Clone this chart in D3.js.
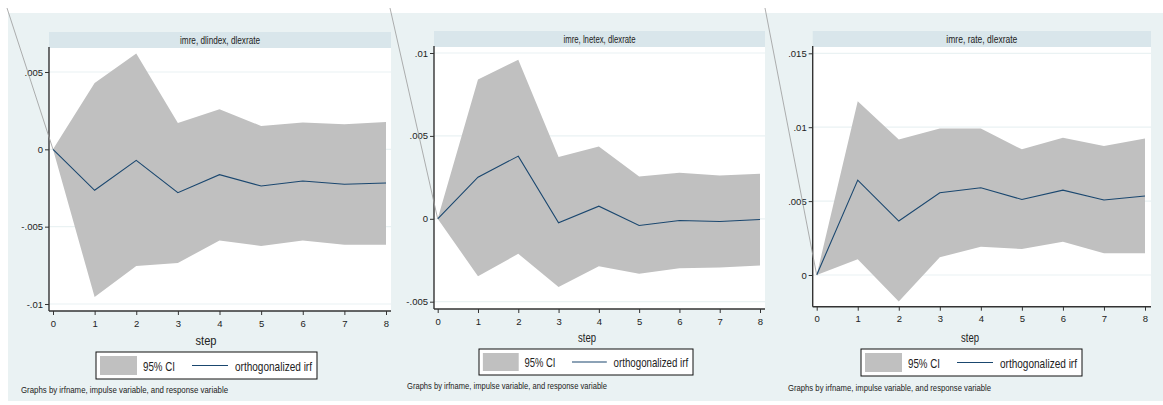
<!DOCTYPE html>
<html>
<head>
<meta charset="utf-8">
<script src="https://cdn.jsdelivr.net/npm/d3@7"></script>
<style>
  body { margin: 0; background: #fff; }
  svg { display: block; font-family: "Liberation Sans Narrow", "Liberation Sans", Arial, sans-serif; }
</style>
</head>
<body>
<div id="chart"></div>
<script>
// irf steps
const steps = [0, 1, 2, 3, 4, 5, 6, 7, 8];

// panel titles (irfname, impulse, response)
const titles = ["imre, dlindex, dlexrate", "imre, lnetex, dlexrate", "imre, rate, dlexrate"];

// orthogonalized irf + 95% CI
const irf1 = [0, -0.00265, -0.00071, -0.0028, -0.00164, -0.00237, -0.00205, -0.00226, -0.00218];
const hi1  = [0, 0.00429, 0.00619, 0.0017, 0.00259, 0.00151, 0.00173, 0.00162, 0.00177];
const lo1  = [0, -0.00955, -0.00755, -0.00735, -0.00589, -0.00625, -0.00589, -0.00617, -0.00617];

const irf2 = [0, 0.00251, 0.00378, -0.00024, 0.00076, -0.0004, -0.0001, -0.00016, -0.00004];
const hi2  = [0, 0.0084, 0.0096, 0.00372, 0.00436, 0.00255, 0.00277, 0.00261, 0.00271];
const lo2  = [0, -0.00346, -0.00211, -0.00412, -0.00286, -0.00332, -0.00298, -0.00294, -0.00282];

const irf3 = [0, 0.00642, 0.00365, 0.00556, 0.0059, 0.00511, 0.00574, 0.00507, 0.00534];
const hi3  = [0, 0.01176, 0.00917, 0.00991, 0.00991, 0.0085, 0.00928, 0.00872, 0.00924];
const lo3  = [0, 0.00106, -0.0018, 0.0012, 0.00191, 0.00176, 0.00225, 0.00147, 0.00147];

// y tick values
const yTicks1 = [-0.01, -0.005, 0, 0.005];
const yTicks2 = [-0.005, 0, 0.005, 0.01];
const yTicks3 = [0, 0.005, 0.01, 0.015];

const legendLabels = ["95% CI", "orthogonalized irf"];
const xTitle = "step";
const note = "Graphs by irfname, impulse variable, and response variable";

// stata-ish colours
const bgCol = "#eaf2f3", stripCol = "#d9e6eb", ciCol = "#c0c0c0", lineCol = "#1a476f";

const W = 1163, H = 405;
const svg = d3.select("#chart").append("svg").attr("width", W).attr("height", H);

// layout for each panel (pixels); tw = squeezed text widths (title, step, note)
const panels = [
  { irf: irf1, hi: hi1, lo: lo1, ticks: yTicks1, title: titles[0],
    bg: [8, 391], plotX: [49, 391], plotY: [48, 311], strip: [32, 48],
    xr: [53, 386], yr: [304, 72], cx: 206, stepY: 345,
    leg: [96, 352, 221, 27], noteX: 21, noteY: 393, tw: [80, 21, 207] },
  { irf: irf2, hi: hi2, lo: lo2, ticks: yTicks2, title: titles[1],
    bg: [391, 766], plotX: [434, 765], plotY: [47, 309], strip: [31, 47],
    xr: [437.7, 760], yr: [301.7, 53], cx: 587, stepY: 342,
    leg: [479, 349, 214, 26], noteX: 407, noteY: 389, tw: [72, 18, 200] },
  { irf: irf3, hi: hi3, lo: lo3, ticks: yTicks3, title: titles[2],
    bg: [766, 1163], plotX: [812.7, 1151], plotY: [47, 306.7], strip: [31, 47],
    xr: [816.7, 1145], yr: [275, 53.3], cx: 970, stepY: 342,
    leg: [861, 349, 221, 27], noteX: 788, noteY: 391, tw: [71, 18, 203] }
];

const fmt = v => v === 0 ? "0" : String(+v.toFixed(4)).replace("0.", ".");

// the original uses a very condensed face, so squeeze text to the measured width
const squeeze = (sel, w) => sel.attr("textLength", w).attr("lengthAdjust", "spacingAndGlyphs");

panels.forEach(p => {
  const g = svg.append("g");

  // graph region
  g.append("rect")
    .attr("x", p.bg[0]).attr("y", 13)
    .attr("width", p.bg[1] - p.bg[0]).attr("height", 388)
    .attr("fill", bgCol);

  // title strip
  g.append("rect")
    .attr("x", p.plotX[0]).attr("y", p.strip[0])
    .attr("width", p.plotX[1] - p.plotX[0]).attr("height", p.strip[1] - p.strip[0])
    .attr("fill", stripCol);
  g.append("text")
    .attr("x", (p.plotX[0] + p.plotX[1]) / 2).attr("y", p.strip[1] - 4.5)
    .attr("text-anchor", "middle").attr("font-size", 10.5).attr("fill", "#222")
    .text(p.title)
    .call(squeeze, p.tw[0]);

  // plot region
  g.append("rect")
    .attr("x", p.plotX[0]).attr("y", p.plotY[0])
    .attr("width", p.plotX[1] - p.plotX[0]).attr("height", p.plotY[1] - p.plotY[0])
    .attr("fill", "#fff");

  const x = d3.scaleLinear().domain([0, 8]).range(p.xr);
  const y = d3.scaleLinear().domain([p.ticks[0], p.ticks[p.ticks.length - 1]]).range(p.yr);

  // grid lines
  g.selectAll(".grid").data(p.ticks).enter().append("line")
    .attr("x1", p.plotX[0]).attr("x2", p.plotX[1])
    .attr("y1", d => y(d)).attr("y2", d => y(d))
    .attr("stroke", bgCol).attr("stroke-width", 1.2);

  // CI band
  const area = d3.area()
    .x((d, i) => x(steps[i]))
    .y0((d, i) => y(p.lo[i]))
    .y1((d, i) => y(p.hi[i]));
  g.append("path").datum(steps).attr("d", area).attr("fill", ciCol);

  // irf line
  const line = d3.line()
    .x((d, i) => x(steps[i]))
    .y((d, i) => y(p.irf[i]));
  g.append("path").datum(steps).attr("d", line)
    .attr("fill", "none").attr("stroke", lineCol).attr("stroke-width", 1.1);

  // axes
  const yAxis = g.append("g")
    .attr("transform", `translate(${p.plotX[0]},0)`)
    .call(d3.axisLeft(y).tickValues(p.ticks).tickFormat(fmt).tickSize(4).tickPadding(2));
  yAxis.select(".domain").attr("d", `M0,${p.plotY[0] - 1}V${p.plotY[1]}`)
    .attr("stroke", "#333").attr("stroke-width", 1.4);

  const xAxis = g.append("g")
    .attr("transform", `translate(0,${p.plotY[1]})`)
    .call(d3.axisBottom(x).tickValues(steps).tickFormat(d3.format("d")).tickSize(4).tickPadding(5));
  xAxis.select(".domain").attr("d", `M${p.plotX[0]},0H${p.plotX[1]}`)
    .attr("stroke", "#333").attr("stroke-width", 1.4);

  [yAxis, xAxis].forEach(a => {
    a.selectAll(".tick line").attr("stroke", "#333");
    a.selectAll("text").attr("font-size", 9.5).attr("fill", "#222")
      .attr("font-family", "Liberation Sans Narrow, Liberation Sans, sans-serif");
  });

  g.append("text")
    .attr("x", p.cx).attr("y", p.stepY)
    .attr("text-anchor", "middle").attr("font-size", 13).attr("fill", "#222")
    .text(xTitle)
    .call(squeeze, p.tw[1]);

  // legend
  const [lx, ly, lw, lh] = p.leg;
  const k = lw / 221;
  const lg = g.append("g").attr("transform", `translate(${lx},${ly})`);
  lg.append("rect").attr("width", lw).attr("height", lh)
    .attr("fill", "#fff").attr("stroke", "#111").attr("stroke-width", 1);
  lg.append("rect").attr("x", 4 * k).attr("y", 4).attr("width", 37 * k).attr("height", lh - 8)
    .attr("fill", ciCol);
  lg.append("text").attr("x", 47 * k).attr("y", lh / 2 + 5)
    .attr("font-size", 13.5).attr("fill", "#222").text(legendLabels[0])
    .call(squeeze, 32 * k);
  lg.append("line").attr("x1", 96 * k).attr("x2", 132 * k)
    .attr("y1", lh / 2).attr("y2", lh / 2)
    .attr("stroke", lineCol).attr("stroke-width", 1.1);
  lg.append("text").attr("x", 139 * k).attr("y", lh / 2 + 5)
    .attr("font-size", 13.5).attr("fill", "#222").text(legendLabels[1])
    .call(squeeze, 77 * k);

  // note
  g.append("text").attr("x", p.noteX).attr("y", p.noteY)
    .attr("font-size", 9.5).attr("fill", "#222").text(note)
    .call(squeeze, p.tw[2]);

  // stray connector line that runs down to the origin
  g.append("line")
    .attr("x1", p.bg[0] - 1).attr("y1", 8)
    .attr("x2", x(0)).attr("y2", y(0))
    .attr("stroke", "#9a9a9a").attr("stroke-width", 0.8);
});
</script>
</body>
</html>
